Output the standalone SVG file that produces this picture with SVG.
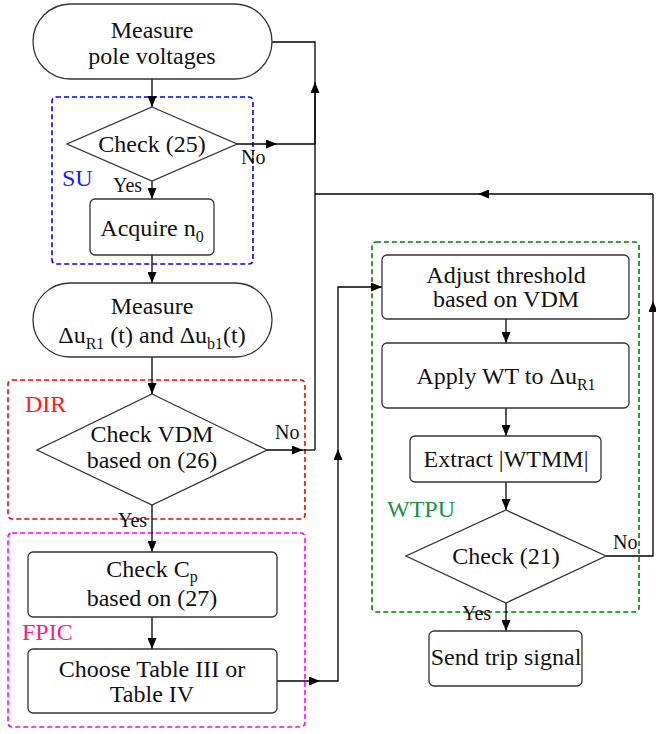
<svg xmlns="http://www.w3.org/2000/svg" width="656" height="734" viewBox="0 0 656 734">
<style>
.box{fill:#fff;stroke:#333;stroke-width:1.3}
.t{font-family:'Liberation Serif','Times New Roman',serif;font-size:24px;fill:#111;text-anchor:middle}
.s{font-family:'Liberation Serif','Times New Roman',serif;font-size:20px;fill:#111}
.sub{font-size:16px}
.ln{fill:none;stroke:#000;stroke-width:1.3}
.arr{marker-end:url(#ah)}
.grp{fill:none;stroke-width:1.6;stroke-dasharray:5,3}
.lab{font-family:'Liberation Serif','Times New Roman',serif;font-size:24px}
</style>
<defs>
<marker id="ah" markerUnits="userSpaceOnUse" markerWidth="11" markerHeight="9" refX="11" refY="4.5" orient="auto">
<path d="M0,0 L11,4.5 L0,9 z" fill="#000"/>
</marker>
</defs>
<rect width="656" height="734" fill="#fff"/>

<g id="group-SU">
<rect x="52" y="97" width="201" height="167" rx="4" class="grp" stroke="#0000ff"/>
<text x="62" y="186" class="lab" fill="#1a1aff" font-size="22">SU</text>
</g>
<g id="group-DIR">
<rect x="8" y="380" width="297" height="139" rx="4" class="grp" stroke="#ff0000"/>
<text x="25" y="412" class="lab" fill="#ff1a1a">DIR</text>
</g>
<g id="group-FPIC">
<rect x="8" y="533" width="297" height="194" rx="4" class="grp" stroke="#ff00ff"/>
<text x="22" y="640" class="lab" fill="#ff1a8c">FPIC</text>
</g>
<g id="group-WTPU">
<rect x="372" y="242" width="267" height="370" rx="4" class="grp" stroke="#008000"/>
<text x="387" y="517" class="lab" fill="#1a8f4a">WTPU</text>
</g>

<g id="connectors">
<path class="ln arr" d="M152,79 V107"/>
<path class="ln arr" d="M237,144 H277"/>
<path class="ln" d="M277,144 H315"/>
<path class="ln" d="M272,42 H315 V450"/>
<path class="ln arr" d="M315,144 V82"/>
<path class="ln arr" d="M653,194 H478"/>
<path class="ln" d="M478,194 H315"/>
<path class="ln arr" d="M152,181 V199"/>
<path class="ln arr" d="M152,255 V283"/>
<path class="ln arr" d="M152,357 V394"/>
<path class="ln arr" d="M267,450 H303"/>
<path class="ln" d="M303,450 H315"/>
<path class="ln arr" d="M152,505 V552"/>
<path class="ln arr" d="M152,617 V649"/>
<path class="ln arr" d="M277,681 H320"/>
<path class="ln arr" d="M320,681 H338 V449"/>
<path class="ln arr" d="M338,449 V287 H382"/>
<path class="ln arr" d="M506,319 V343"/>
<path class="ln arr" d="M506,408 V436"/>
<path class="ln arr" d="M506,482 V510"/>
<path class="ln arr" d="M506,603 V631"/>
<path class="ln arr" d="M606,556 H653 V301"/>
<path class="ln" d="M653,301 V194"/>
<text x="241" y="164" class="s">No</text>
<text x="113" y="192" class="s">Yes</text>
<text x="275" y="439" class="s">No</text>
<text x="118" y="527" class="s">Yes</text>
<text x="613" y="549" class="s">No</text>
<text x="462" y="620" class="s">Yes</text>
</g>

<g id="n-measure-pole">
<rect x="33" y="4" width="239" height="75" rx="37.5" class="box"/>
<text x="152" y="38" class="t">Measure</text>
<text x="152" y="64" class="t">pole voltages</text>
</g>
<g id="n-check25">
<polygon points="152,107 237,144 152,181 67,144" class="box"/>
<text x="152" y="152" class="t">Check (25)</text>
</g>
<g id="n-acquire">
<rect x="90" y="199" width="124" height="56" rx="5" class="box"/>
<text x="152" y="236" class="t">Acquire n<tspan class="sub" dy="6">0</tspan></text>
</g>
<g id="n-measure-du">
<rect x="33" y="283" width="239" height="74" rx="37" class="box"/>
<text x="152" y="314" class="t">Measure</text>
<text x="152" y="343" class="t">Δu<tspan class="sub" dy="6">R1</tspan><tspan dy="-6"> (t) and Δu</tspan><tspan class="sub" dy="6">b1</tspan><tspan dy="-6">(t)</tspan></text>
</g>
<g id="n-checkvdm">
<polygon points="152,394 267,450 152,505 37,450" class="box"/>
<text x="152" y="442" class="t">Check VDM</text>
<text x="152" y="468" class="t">based on (26)</text>
</g>
<g id="n-checkcp">
<rect x="28" y="552" width="249" height="65" rx="5" class="box"/>
<text x="152" y="577" class="t">Check C<tspan class="sub" dy="5">p</tspan></text>
<text x="152" y="606" class="t">based on (27)</text>
</g>
<g id="n-choose">
<rect x="28" y="649" width="249" height="64" rx="5" class="box"/>
<text x="152" y="677" class="t">Choose Table III or</text>
<text x="152" y="702" class="t">Table IV</text>
</g>
<g id="n-adjust">
<rect x="382" y="255" width="247" height="64" rx="5" class="box"/>
<text x="506" y="283" class="t">Adjust threshold</text>
<text x="506" y="307" class="t">based on VDM</text>
</g>
<g id="n-apply">
<rect x="382" y="343" width="247" height="65" rx="5" class="box"/>
<text x="506" y="384" class="t">Apply WT to Δu<tspan class="sub" dy="6">R1</tspan></text>
</g>
<g id="n-extract">
<rect x="410" y="436" width="191" height="46" rx="5" class="box"/>
<text x="506" y="467" class="t">Extract |WTMM|</text>
</g>
<g id="n-check21">
<polygon points="506,510 606,556 506,603 406,556" class="box"/>
<text x="506" y="564" class="t">Check (21)</text>
</g>
<g id="n-send">
<rect x="429" y="631" width="153" height="55" rx="5" class="box"/>
<text x="506" y="665" class="t" font-size="20">Send trip signal</text>
</g>
</svg>
